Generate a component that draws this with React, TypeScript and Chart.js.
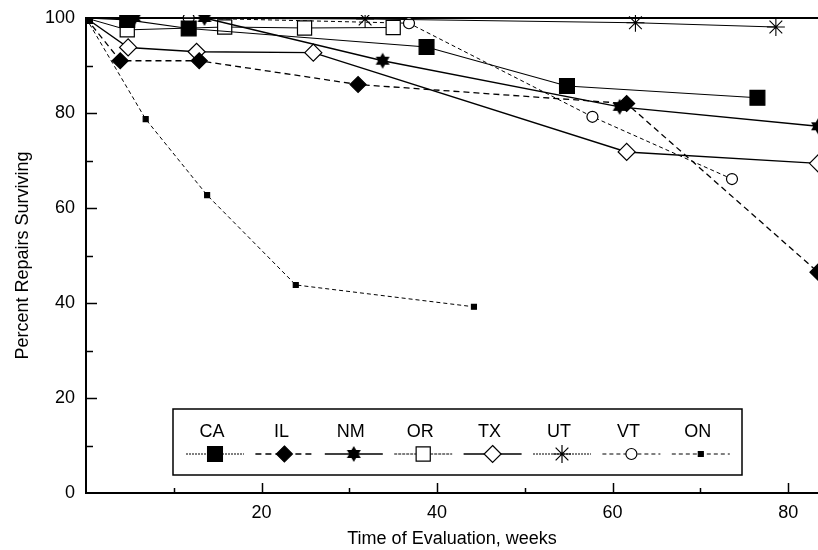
import React, { useEffect, useRef } from 'react';
import { Chart, registerables } from 'chart.js';

Chart.register(...registerables);

// ---- data (weeks, percent surviving) ----
const SERIES_NAMES = ['CA', 'IL', 'NM', 'OR', 'TX', 'UT', 'VT', 'ON'];

const CA_WEEKS = [0, 4.7, 11.7, 38.8, 54.8, 76.5];
const CA_PCT = [100, 99.6, 97.8, 93.9, 85.7, 83.2];
const IL_WEEKS = [0, 3.9, 12.9, 31.0, 61.6, 83.4];
const IL_PCT = [100, 91, 91, 86, 82, 46.5];
const NM_WEEKS = [0, 5.5, 13.5, 33.8, 60.8, 83.4];
const NM_PCT = [100, 100, 100, 91, 81.3, 77.2];
const OR_WEEKS = [0, 4.7, 15.8, 24.9, 35.0];
const OR_PCT = [100, 97.5, 98.1, 97.9, 98];
const TX_WEEKS = [0, 4.8, 12.6, 25.9, 61.6, 83.4];
const TX_PCT = [100, 93.8, 92.9, 92.7, 71.8, 69.4];
const UT_WEEKS = [0, 31.8, 62.6, 78.6];
const UT_PCT = [100, 99.8, 99, 98.1];
const VT_WEEKS = [0, 11.7, 36.8, 57.7, 73.6];
const VT_PCT = [100, 100, 98.9, 79.2, 66.1];
const ON_WEEKS = [0, 6.8, 13.8, 23.9, 44.2];
const ON_PCT = [100, 78.7, 62.7, 43.8, 39.2];

const X_MAX = 83.4;
const Y_LABEL_STEP = 20;
const TICK_STEP = 10;

const FONT = '"Liberation Sans", Arial, Helvetica, sans-serif';

type Style = {
  marker: string;
  radius: number;
  fill: string;
  lineWidth: number;
  dash: number[];
};

const STYLES: Record<string, Style> = {
  CA: { marker: 'rect', radius: 10.5, fill: '#000', lineWidth: 1.1, dash: [] },
  IL: { marker: 'rectRot', radius: 8, fill: '#000', lineWidth: 1.3, dash: [6, 4] },
  NM: { marker: 'hex', radius: 8, fill: '#000', lineWidth: 1.4, dash: [] },
  OR: { marker: 'rect', radius: 10, fill: '#fff', lineWidth: 1, dash: [] },
  TX: { marker: 'rectRot', radius: 8.5, fill: '#fff', lineWidth: 1.4, dash: [] },
  UT: { marker: 'star', radius: 9, fill: '#000', lineWidth: 1, dash: [] },
  VT: { marker: 'circle', radius: 5.5, fill: '#fff', lineWidth: 1, dash: [4, 3] },
  ON: { marker: 'rect', radius: 3.5, fill: '#000', lineWidth: 1, dash: [4, 3] },
};

const LEGEND_DASH: Record<string, number[]> = {
  CA: [2, 1],
  IL: [6, 4],
  NM: [],
  OR: [3, 1],
  TX: [],
  UT: [2, 1],
  VT: [4, 3],
  ON: [4, 3],
};

function makeHexagram(r: number): HTMLCanvasElement {
  const s = Math.ceil(2 * r + 2);
  const c = document.createElement('canvas');
  c.width = s;
  c.height = s;
  const g = c.getContext('2d')!;
  const cx = s / 2;
  const cy = s / 2;
  g.fillStyle = '#000';
  for (const rot of [-Math.PI / 2, Math.PI / 2]) {
    g.beginPath();
    for (let i = 0; i < 3; i++) {
      const a = rot + (i * 2 * Math.PI) / 3;
      const px = cx + r * Math.cos(a);
      const py = cy + r * Math.sin(a);
      if (i === 0) g.moveTo(px, py);
      else g.lineTo(px, py);
    }
    g.closePath();
    g.fill();
  }
  return c;
}

function drawMarker(ctx: CanvasRenderingContext2D, st: Style, x: number, y: number, hex: HTMLCanvasElement) {
  ctx.save();
  ctx.setLineDash([]);
  ctx.fillStyle = st.fill;
  ctx.strokeStyle = '#000';
  ctx.lineWidth = 1.2;
  const r = st.radius;
  if (st.marker === 'hex') {
    ctx.drawImage(hex, x - hex.width / 2, y - hex.height / 2);
  } else if (st.marker === 'rect') {
    const h = r * Math.SQRT1_2;
    ctx.beginPath();
    ctx.rect(x - h, y - h, 2 * h, 2 * h);
    ctx.fill();
    ctx.stroke();
  } else if (st.marker === 'rectRot') {
    ctx.beginPath();
    ctx.moveTo(x, y - r);
    ctx.lineTo(x + r, y);
    ctx.lineTo(x, y + r);
    ctx.lineTo(x - r, y);
    ctx.closePath();
    ctx.fill();
    ctx.stroke();
  } else if (st.marker === 'circle') {
    ctx.beginPath();
    ctx.arc(x, y, r, 0, Math.PI * 2);
    ctx.fill();
    ctx.stroke();
  } else if (st.marker === 'star') {
    ctx.beginPath();
    for (let i = 0; i < 4; i++) {
      const a = (i * Math.PI) / 4;
      ctx.moveTo(x - r * Math.cos(a), y - r * Math.sin(a));
      ctx.lineTo(x + r * Math.cos(a), y + r * Math.sin(a));
    }
    ctx.stroke();
  }
  ctx.restore();
}

export default function App() {
  const ref = useRef<HTMLCanvasElement | null>(null);

  useEffect(() => {
    if (!ref.current) return;
    const hex = makeHexagram(STYLES.NM.radius);

    const seriesData: Record<string, [number[], number[]]> = {
      CA: [CA_WEEKS, CA_PCT],
      IL: [IL_WEEKS, IL_PCT],
      NM: [NM_WEEKS, NM_PCT],
      OR: [OR_WEEKS, OR_PCT],
      TX: [TX_WEEKS, TX_PCT],
      UT: [UT_WEEKS, UT_PCT],
      VT: [VT_WEEKS, VT_PCT],
      ON: [ON_WEEKS, ON_PCT],
    };

    const datasets = SERIES_NAMES.map((name) => {
      const [xs, ys] = seriesData[name];
      const st = STYLES[name];
      return {
        label: name,
        data: xs.map((x, i) => ({ x, y: ys[i] })),
        borderColor: '#000',
        borderWidth: st.lineWidth,
        borderDash: st.dash,
        backgroundColor: st.fill,
        pointStyle: st.marker === 'hex' ? hex : st.marker,
        pointRadius: xs.map((x) => (x === 0 ? 0 : st.radius)),
        pointBackgroundColor: st.fill,
        pointBorderColor: '#000',
        pointBorderWidth: st.marker === 'star' ? 1.1 : 1.2,
        tension: 0,
        fill: false,
        clip: { left: 0, top: 3, right: 20, bottom: 10 },
      };
    });

    const decorPlugin = {
      id: 'decor',
      beforeDatasetsDraw(chart: any) {
        const { ctx, chartArea: a, scales } = chart;
        const x = scales.x;
        const y = scales.y;
        ctx.save();
        ctx.strokeStyle = '#000';
        ctx.setLineDash([]);
        // top frame line
        ctx.lineWidth = 2;
        ctx.beginPath();
        ctx.moveTo(a.left, a.top);
        ctx.lineTo(a.right + 2, a.top);
        ctx.stroke();
        // inward ticks
        ctx.lineWidth = 1.5;
        for (let v = TICK_STEP; v < 100; v += TICK_STEP) {
          const py = Math.round(y.getPixelForValue(v)) + 0.5;
          const len = v % Y_LABEL_STEP === 0 ? 11 : 7;
          ctx.beginPath();
          ctx.moveTo(a.left, py);
          ctx.lineTo(a.left + len, py);
          ctx.stroke();
        }
        for (let v = TICK_STEP; v < X_MAX; v += TICK_STEP) {
          const px = Math.round(x.getPixelForValue(v)) + 0.5;
          const len = v % Y_LABEL_STEP === 0 ? 10 : 5;
          ctx.beginPath();
          ctx.moveTo(px, a.bottom);
          ctx.lineTo(px, a.bottom - len);
          ctx.stroke();
        }
        // small blob in the origin corner where all series start
        ctx.fillStyle = '#000';
        ctx.fillRect(a.left, a.top, 7, 6);
        ctx.restore();
      },
      afterDraw(chart: any) {
        const { ctx } = chart;
        ctx.save();
        // legend box
        const bx = 173;
        const by = 409;
        const bw = 569;
        const bh = 66;
        ctx.fillStyle = '#fff';
        ctx.fillRect(bx, by, bw, bh);
        ctx.strokeStyle = '#000';
        ctx.lineWidth = 1.5;
        ctx.setLineDash([]);
        ctx.strokeRect(bx, by, bw, bh);
        ctx.font = `18px ${FONT}`;
        ctx.fillStyle = '#000';
        ctx.textAlign = 'center';
        ctx.textBaseline = 'middle';
        SERIES_NAMES.forEach((name, i) => {
          const cx = 212 + i * 69.4;
          ctx.fillStyle = '#000';
          ctx.fillText(name, cx, 432);
          const mx = cx + 3;
          const my = 454;
          const st = STYLES[name];
          ctx.save();
          ctx.strokeStyle = '#000';
          ctx.lineWidth = st.lineWidth;
          ctx.setLineDash(LEGEND_DASH[name]);
          ctx.beginPath();
          ctx.moveTo(mx - 29, my);
          ctx.lineTo(mx + 29, my);
          ctx.stroke();
          ctx.restore();
          drawMarker(ctx, st, mx, my, hex);
        });
        ctx.restore();
      },
    };

    const chart = new Chart(ref.current, {
      type: 'line',
      data: { datasets: datasets as any },
      options: {
        responsive: false,
        animation: false,
        layout: { autoPadding: false, padding: { top: 18, right: 0, bottom: 0, left: 0 } },
        plugins: {
          legend: { display: false },
          tooltip: { enabled: false },
        },
        scales: {
          x: {
            type: 'linear',
            min: 0,
            max: X_MAX,
            afterFit: (s: any) => {
              s.height = 57;
            },
            grid: { display: false },
            border: { display: true, color: '#000', width: 2 },
            ticks: {
              stepSize: TICK_STEP,
              includeBounds: false,
              autoSkip: false,
              maxRotation: 0,
              padding: 1,
              color: '#000',
              font: { family: FONT, size: 18 },
              callback: (v: any) => (Number(v) !== 0 && Number(v) % Y_LABEL_STEP === 0 ? String(v) : ''),
            },
            title: {
              display: true,
              text: 'Time of Evaluation, weeks',
              color: '#000',
              font: { family: FONT, size: 18 },
              padding: { top: 0, bottom: 0 },
            },
          },
          y: {
            type: 'linear',
            min: 0,
            max: 100,
            afterFit: (s: any) => {
              s.width = 86;
            },
            grid: { display: false },
            border: { display: true, color: '#000', width: 2 },
            ticks: {
              stepSize: TICK_STEP,
              autoSkip: false,
              padding: 3,
              color: '#000',
              font: { family: FONT, size: 18 },
              callback: (v: any) => (Number(v) % Y_LABEL_STEP === 0 ? String(v) : ''),
            },
            title: {
              display: true,
              text: 'Percent Repairs Surviving',
              color: '#000',
              font: { family: FONT, size: 18 },
              padding: { top: 12, bottom: 0 },
            },
          },
        },
      },
      plugins: [decorPlugin],
    });

    return () => chart.destroy();
  }, []);

  return (
    <div style={{ position: 'fixed', left: 0, top: 0, width: 818, height: 550, background: '#fff' }}>
      <canvas ref={ref} width={818} height={550} style={{ display: 'block', width: 818, height: 550 }} />
    </div>
  );
}
